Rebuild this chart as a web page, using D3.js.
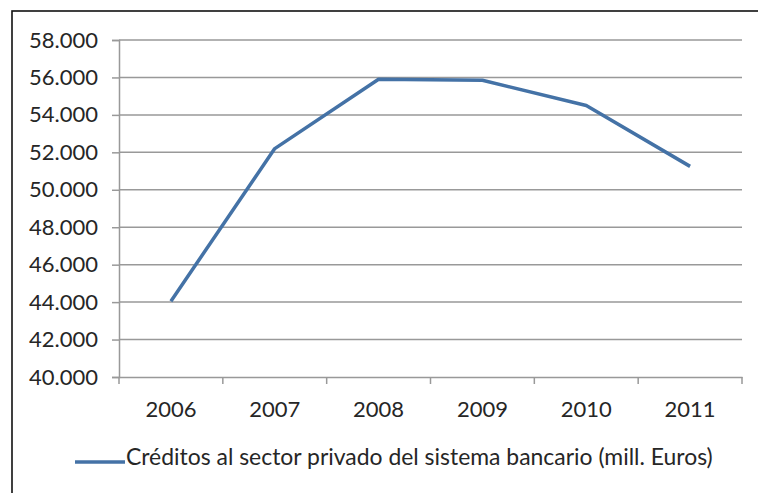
<!DOCTYPE html>
<html>
<head>
<meta charset="utf-8">
<script src="https://cdn.jsdelivr.net/npm/d3@7"></script>
<style>
  html, body { margin: 0; padding: 0; background: #fff; }
  svg { display: block; }
  text { font-family: Lato, "Open Sans", sans-serif; fill: #262626; }
</style>
</head>
<body>
<svg id="chart" width="758" height="493"></svg>
<script>
const years = ["2006", "2007", "2008", "2009", "2010", "2011"];
const creditValues = [44050, 52200, 55900, 55850, 54500, 51250];
const yTicks = [40000, 42000, 44000, 46000, 48000, 50000, 52000, 54000, 56000, 58000];
const seriesName = "Créditos al sector privado del sistema bancario (mill. Euros)";

const svg = d3.select("#chart");
const W = 758, H = 493;
const plot = { left: 119, right: 742, top: 40, bottom: 377 };
const lineColor = "#4472a6";
const gridColor = "#999999";

// Outer border
svg.append("rect")
  .attr("x", 12).attr("y", 11)
  .attr("width", W).attr("height", H)
  .attr("fill", "#fff").attr("stroke", "#111").attr("stroke-width", 1.6);

const x = d3.scaleBand().domain(years).range([plot.left, plot.right]).padding(0);
const y = d3.scaleLinear().domain([40000, 58000]).range([plot.bottom, plot.top]);

const es = d3.formatLocale({ decimal: ",", thousands: ".", grouping: [3], currency: ["", " €"] });
const fmt = es.format(",.0f");

// Gridlines
svg.append("g")
  .selectAll("line")
  .data(yTicks.filter(d => d !== 40000))
  .join("line")
  .attr("x1", plot.left).attr("x2", plot.right)
  .attr("y1", d => y(d)).attr("y2", d => y(d))
  .attr("stroke", gridColor).attr("stroke-width", 1.5);

// Y axis
const yAxis = svg.append("g")
  .attr("transform", `translate(${plot.left},0)`)
  .call(d3.axisLeft(y).tickValues(yTicks).tickFormat(fmt).tickSize(7).tickPadding(14));
yAxis.select(".domain").attr("stroke", gridColor).attr("stroke-width", 1.5);
yAxis.selectAll(".tick line").attr("stroke", gridColor).attr("stroke-width", 1.5);
yAxis.selectAll("text").attr("font-size", 22).style("fill", "#262626");

// X axis (ticks at band boundaries)
const xAxis = svg.append("g")
  .attr("transform", `translate(0,${plot.bottom})`)
  .call(d3.axisBottom(x).tickSize(0).tickPadding(24));
xAxis.select(".domain").attr("stroke", gridColor).attr("stroke-width", 1.5);
xAxis.selectAll("text").attr("font-size", 22).style("fill", "#262626");
svg.append("g").selectAll("line")
  .data(years.concat(["end"]))
  .join("line")
  .attr("x1", (d, i) => i < years.length ? x(d) : x(years[years.length - 1]) + x.bandwidth())
  .attr("x2", (d, i) => i < years.length ? x(d) : x(years[years.length - 1]) + x.bandwidth())
  .attr("y1", plot.bottom).attr("y2", plot.bottom + 7)
  .attr("stroke", gridColor).attr("stroke-width", 1.5);

// Series line
const line = d3.line()
  .x((d, i) => x(years[i]) + x.bandwidth() / 2)
  .y(d => y(d));
svg.append("path")
  .datum(creditValues)
  .attr("d", line)
  .attr("fill", "none")
  .attr("stroke", lineColor)
  .attr("stroke-width", 3.5)
  .attr("stroke-linejoin", "round");

// Legend
const lg = svg.append("g");
lg.append("line")
  .attr("x1", 75).attr("x2", 125).attr("y1", 462).attr("y2", 462)
  .attr("stroke", lineColor).attr("stroke-width", 3.5);
const lt = lg.append("text")
  .attr("x", 126).attr("y", 465)
  .attr("font-size", 21)
  .text(seriesName);
// fit legend text width to reference (~587px)
const w = lt.node().getComputedTextLength();
lt.attr("font-size", 21 * 587 / w);
</script>
</body>
</html>
